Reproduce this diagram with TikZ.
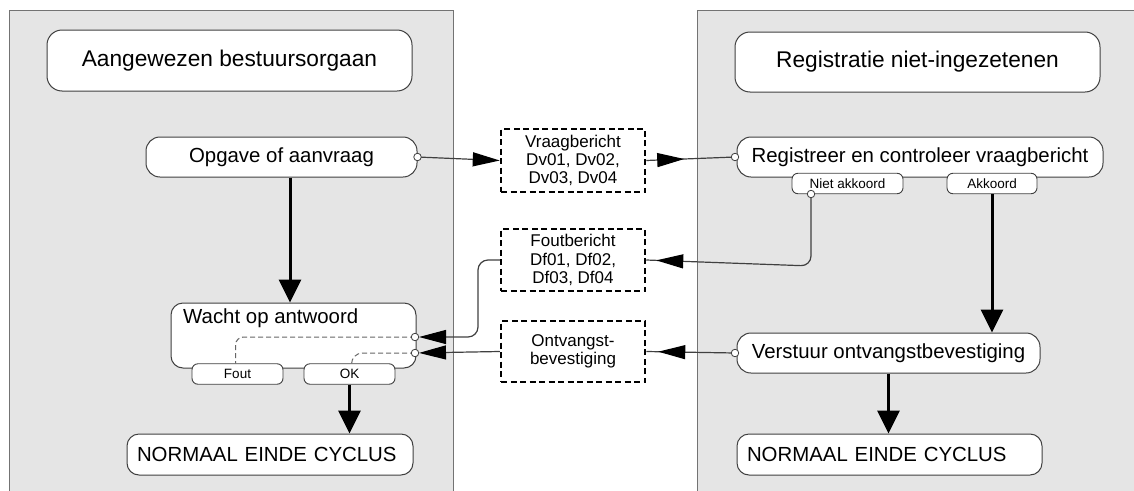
\documentclass[tikz,border=0pt]{standalone}
\usepackage{fontspec}
\setmainfont{Liberation Sans}
\usetikzlibrary{arrows.meta,decorations.markings,calc}
\begin{document}
\begin{tikzpicture}[x=1pt,y=-1pt,
  >={Triangle[length=27pt,width=14pt,color=black]},
  panel/.style={draw=black!55, fill=black!10, line width=1pt},
  box/.style={draw=black!75, fill=white, rounded corners=12pt, line width=1pt, inner sep=0pt, font=\fontsize{20.4}{24}\selectfont},
  titlebox/.style={box, rounded corners=15pt, font=\fontsize{22.7}{27}\selectfont},
  tab/.style={draw=black!75, fill=white, rounded corners=6pt, line width=0.9pt, inner sep=0pt, minimum height=20.5pt, font=\fontsize{13.5}{16}\selectfont},
  msg/.style={draw=black, dash pattern=on 6pt off 3.5pt, line width=2.5pt, fill=white, minimum width=144pt, align=center, inner sep=0pt, font=\fontsize{17}{18.3}\selectfont},
  portc/.style={circle, draw=black!75, fill=white, line width=0.8pt, inner sep=0pt, minimum size=7.5pt},
  flow/.style={line width=3pt, -{Triangle[length=23pt,width=22pt]}},
  msgline/.style={draw=black!75, line width=1.2pt},
  inner/.style={draw=black!60, line width=1pt, dash pattern=on 5pt off 3pt},
  midtip/.style={postaction={decorate,decoration={markings,mark=at position #1 with {\arrow{>}}}}}
]
\useasboundingbox (0,0) rectangle (1134,490);
% panels
\path[panel] (9,10) rectangle (453,500);
\path[panel] (697,10) rectangle (1145,500);

% left lane
\node[titlebox, minimum width=365pt, minimum height=61pt] (tl) at (229.5,60.5) {Aangewezen bestuursorgaan};
\node[box, rounded corners=14pt, minimum width=271pt, minimum height=40pt] (opgave) at (281.5,157) {Opgave of aanvraag};
\node[box, minimum width=245pt, minimum height=65pt] (wacht) at (293.5,335.5) {};
\node[font=\fontsize{20.4}{24}\selectfont, anchor=west, inner sep=0pt] (wachttxt) at (183,318) {Wacht op antwoord};
\node[tab, minimum width=91pt] (fout) at (237.5,374) {Fout};
\node[tab, minimum width=91pt] (ok) at (349.5,374) {OK};
\node[box, minimum height=41pt, text width=266pt, inner xsep=10pt, align=left] (n1) at (270,454.5) {NORMAAL EINDE CYCLUS};

% right lane
\node[titlebox, minimum width=365pt, minimum height=60pt] (tr) at (917.5,62) {Registratie niet-ingezetenen};
\node[box, rounded corners=14pt, minimum width=366pt, minimum height=40pt] (reg) at (920,157) {Registreer en controleer vraagbericht};
\node[tab, minimum width=111pt] (na) at (847.5,183.5) {Niet akkoord};
\node[tab, minimum width=90pt] (ak) at (992,183.5) {Akkoord};
\node[box, rounded corners=14pt, minimum width=303pt, minimum height=40pt] (ver) at (888.5,353) {Verstuur ontvangstbevestiging};
\node[box, minimum height=41pt, text width=285pt, inner xsep=10pt, align=left] (n2) at (889.5,454.5) {NORMAAL EINDE CYCLUS};

% messages
\node[msg, minimum height=63pt] (vb) at (573,160.5) {Vraagbericht\\Dv01, Dv02,\\Dv03, Dv04};
\node[msg, minimum height=62pt] (fb) at (573,260) {Foutbericht\\Df01, Df02,\\Df03, Df04};
\node[msg, minimum height=61pt] (ob) at (573,351.5) {Ontvangst-\\bevestiging};

% port positions
\coordinate (pop) at (opgave.east);
\coordinate (preg) at (735,157);
\coordinate (pna) at (811,194);
\coordinate (pw1) at (415,337);
\coordinate (pw2) at (415,353);
\coordinate (pver) at (735,353);
\coordinate (fbend) at (478,337);
\coordinate (nabend) at (811,266);
\coordinate (c1) at (290,0);

% message connectors
\draw[msgline, ->] (pop) -- (vb.west);
\draw[msgline, midtip=38pt] (vb.east) -- (preg);
\draw[msgline, rounded corners=10pt, midtip=-10pt] (pna) -- (nabend) -- (fb.east);
\draw[msgline, rounded corners=10pt, ->, shorten >=4pt] (fb.west) -| (fbend) -- (pw1);
\draw[msgline, midtip=-12pt] (pver) -- (ob.east);
\draw[msgline, ->, shorten >=4pt] (ob.west) -- (pw2);

% flows
\draw[flow] (opgave.south -| c1) -- (wacht.north -| c1);
\draw[flow] (ok.south) -- (ok.south |- n1.north);
\draw[flow] (ak.south) -- (ak.south |- ver.north);
\draw[flow] (ver.south) -- (ver.south |- n2.north);

% internal dashed links
\draw[inner, rounded corners=8pt] (pw1) -| ($(fout.north)+(-2,0)$);
\draw[inner, rounded corners=11pt] (pw2) -| ($(ok.north)+(2,0)$);

% ports
\node[portc] (po1) at (pop) {};
\node[portc] (po2) at (preg) {};
\node[portc] (po3) at (pna) {};
\node[portc] (po4) at (pw1) {};
\node[portc] (po5) at (pw2) {};
\node[portc] (po6) at (pver) {};
\end{tikzpicture}
\end{document}
